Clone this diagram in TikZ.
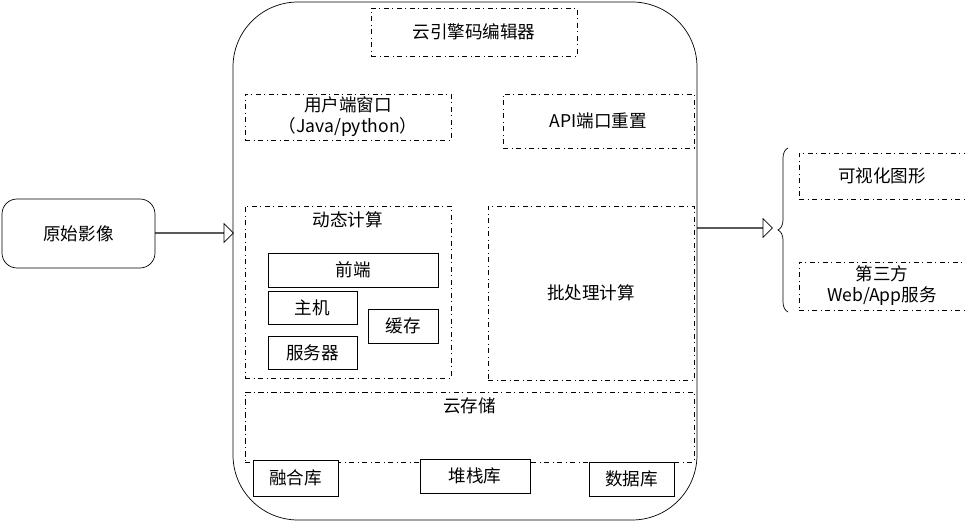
\documentclass[tikz,border=0pt]{standalone}
\usepackage{fontspec}
\setmainfont{Noto Sans CJK SC}
\usetikzlibrary{decorations.pathreplacing,shapes.arrows}

\begin{document}
\begin{tikzpicture}[x=0.02cm,y=-0.02cm,font=\fontsize{10}{12}\selectfont]
		\useasboundingbox (0,0) rectangle (965,523);
		\tikzstyle{dbox}=[draw,dash dot,inner sep=0pt]
		\tikzstyle{sbox}=[draw,inner sep=0pt]
		\tikzstyle{hollow}=[draw,single arrow,single arrow head extend=0.18cm,minimum width=0.36cm,inner sep=0pt,anchor=west]

		\draw[rounded corners=1.3cm] (233,2) rectangle (697,520);
		\node[rectangle,draw,rounded corners=0.3cm,minimum width=3.06cm,minimum height=1.38cm](src) at (78.5,233.5){原始影像};

		\node[dbox,minimum width=4.12cm,minimum height=0.96cm](editor) at (474,32){云引擎码编辑器};
		\node[dbox,minimum width=4.12cm,minimum height=0.92cm,align=center](client) at (348,117){用户端窗口\\（Java/python）};
		\node[dbox,minimum width=3.82cm,minimum height=1.08cm](api) at (598.5,121){API端口重置};

		\node[dbox,minimum width=4.12cm,minimum height=3.44cm](dyn) at (348,292){};
		\node[below=0pt] at (dyn.north){动态计算};
		\node[sbox,minimum width=3.4cm,minimum height=0.68cm](front) at (353,270){前端};
		\node[sbox,minimum width=1.78cm,minimum height=0.66cm](host) at (312.5,307.5){主机};
		\node[sbox,minimum width=1.4cm,minimum height=0.68cm](cache) at (403,326){缓存};
		\node[sbox,minimum width=1.78cm,minimum height=0.66cm](server) at (312.5,352.5){服务器};

		\node[dbox,minimum width=4.12cm,minimum height=3.48cm](batch) at (591,293){批处理计算};

		\node[dbox,minimum width=8.98cm,minimum height=1.4cm](store) at (469.5,427){};
		\node[below=0pt] at (store.north){云存储};
		\node[sbox,minimum width=1.7cm,minimum height=0.72cm,fill=white](fuse) at (295.5,478){融合库};
		\node[sbox,minimum width=2.2cm,minimum height=0.68cm,fill=white](stack) at (475,476){堆栈库};
		\node[sbox,minimum width=1.7cm,minimum height=0.68cm,fill=white](data) at (631.5,479){数据库};

		\node[dbox,minimum width=3.32cm,minimum height=0.92cm](vis) at (882,176){可视化图形};
		\node[dbox,minimum width=3.32cm,minimum height=0.96cm,align=center](web) at (882,286){第三方\\Web/App服务};

		\node[hollow,minimum height=1.56cm](inarrow) at (155,233){};
		\node[hollow,minimum height=1.5cm](outarrow) at (697,228){};
		\draw[decorate,decoration={brace,amplitude=0.2cm}] (788,312) -- (788,148);
	\end{tikzpicture}
\end{document}
